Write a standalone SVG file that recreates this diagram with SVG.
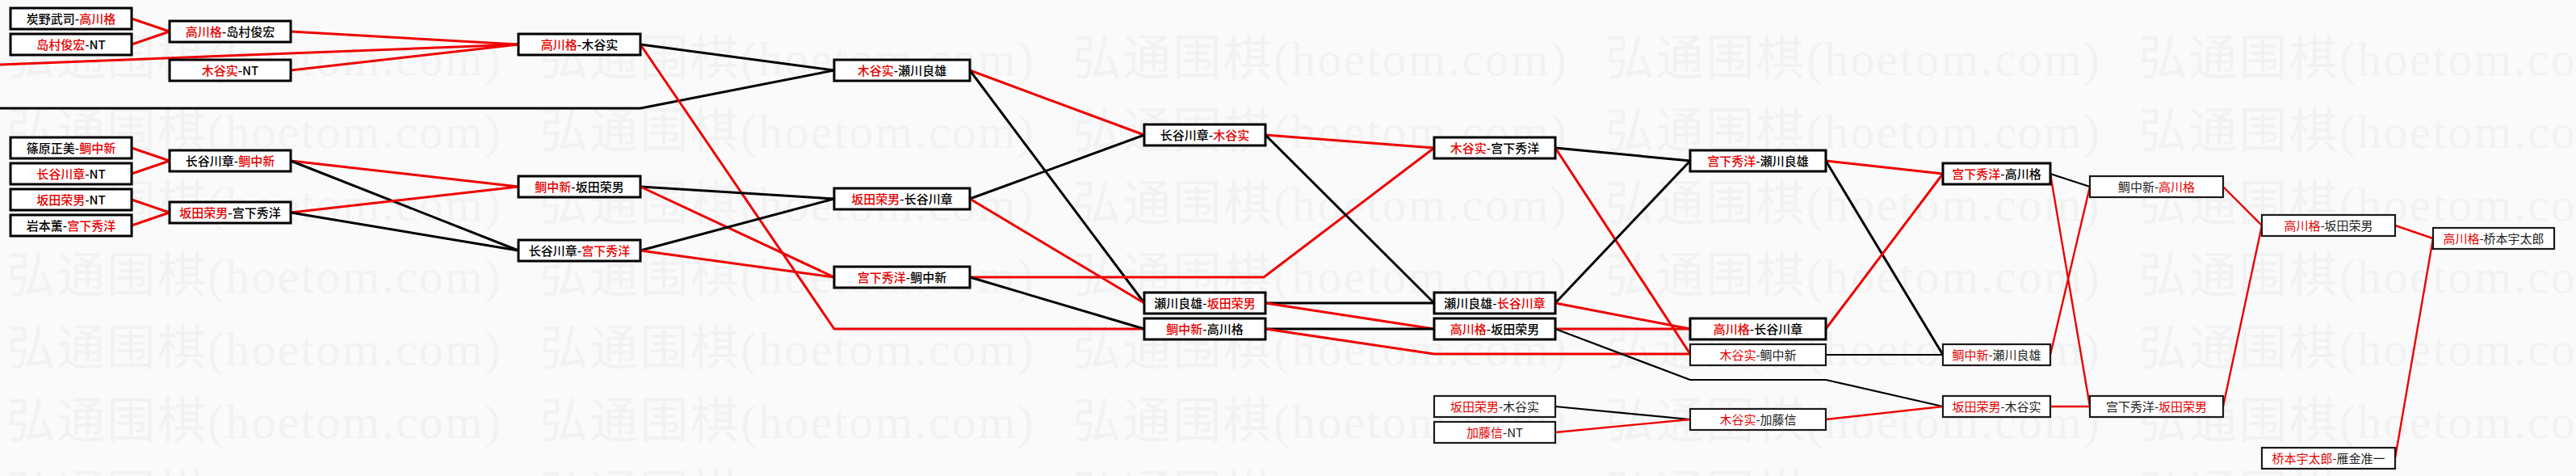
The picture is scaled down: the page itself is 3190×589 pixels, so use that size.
<svg xmlns="http://www.w3.org/2000/svg" xmlns:xlink="http://www.w3.org/1999/xlink" width="3190" height="589" viewBox="0 0 3190 589">
<style>
.bg{fill:#fafafa}
.wm{font-family:"Liberation Serif","Noto Sans CJK SC",serif;font-size:60px;fill:#f2f2f2}
.box{fill:#fff;stroke:#000;stroke-width:3}
.thin{fill:#fff;stroke:#1a1a1a;stroke-width:2.2}
.t{font-family:"Noto Sans CJK SC","Noto Sans CJK JP",sans-serif;font-size:15px;font-weight:500;fill:#000;text-anchor:middle}
.tt{font-family:"Noto Sans CJK SC","Noto Sans CJK JP",sans-serif;font-size:15px;font-weight:400;fill:#222;text-anchor:middle}
.r{fill:#e60000}
.lr{fill:none;stroke:#ee0000;stroke-width:3;stroke-linejoin:round}
.lk{fill:none;stroke:#000;stroke-width:3;stroke-linejoin:round}
.lr2{fill:none;stroke:#ee0000;stroke-width:2.4;stroke-linejoin:round}
.lk2{fill:none;stroke:#000;stroke-width:2.2;stroke-linejoin:round}
</style>
<defs>
<text id="wmt" class="wm" textLength="612" lengthAdjust="spacing">弘通围棋(hoetom.com)</text>
<g id="wmrow">
<use xlink:href="#wmt" x="8"/><use xlink:href="#wmt" x="668"/><use xlink:href="#wmt" x="1328"/><use xlink:href="#wmt" x="1988"/><use xlink:href="#wmt" x="2648"/>
</g>
</defs>
<rect class="bg" x="0" y="0" width="3190" height="589"/>
<g id="watermark">
<use xlink:href="#wmrow" y="93"/><use xlink:href="#wmrow" y="183"/><use xlink:href="#wmrow" y="273"/><use xlink:href="#wmrow" y="362"/><use xlink:href="#wmrow" y="452"/><use xlink:href="#wmrow" y="542"/><use xlink:href="#wmrow" y="632"/>
</g>
<g id="connectors">
<path class="lr" d="M163,23 L210,39"/>
<path class="lr" d="M163,55 L210,39"/>
<path class="lr" d="M163,183 L210,199"/>
<path class="lr" d="M163,215 L210,199"/>
<path class="lr" d="M163,247 L210,263"/>
<path class="lr" d="M163,279 L210,263"/>
<path class="lr" d="M360,39 L642,55"/>
<path class="lr" d="M360,87 L642,55"/>
<path class="lr" d="M0,80 L642,55"/>
<path class="lr" d="M360,199 L642,231"/>
<path class="lk" d="M360,199 L642,310"/>
<path class="lr" d="M360,263 L642,231"/>
<path class="lk" d="M360,263 L642,310"/>
<path class="lk" d="M793,55 L1033,87"/>
<path class="lk" d="M0,134 L793,134 L1033,87"/>
<path class="lr" d="M793,55 L1033,407 L1417,407"/>
<path class="lk" d="M793,231 L1033,246"/>
<path class="lr" d="M793,231 L1033,343"/>
<path class="lk" d="M793,310 L1033,246"/>
<path class="lr" d="M793,310 L1033,343"/>
<path class="lr" d="M1201,87 L1417,167"/>
<path class="lk" d="M1201,87 L1417,375"/>
<path class="lk" d="M1201,246 L1417,167"/>
<path class="lr" d="M1201,246 L1417,375"/>
<path class="lr" d="M1201,343 L1565,343 L1776,183"/>
<path class="lk" d="M1201,343 L1417,407"/>
<path class="lr" d="M1567,167 L1776,183"/>
<path class="lk" d="M1567,167 L1776,375"/>
<path class="lk" d="M1567,375 L1776,375"/>
<path class="lr" d="M1567,375 L1776,407"/>
<path class="lk" d="M1567,407 L1776,407"/>
<path class="lr" d="M1567,407 L1776,438 L2093,438"/>
<path class="lk" d="M1926,183 L2093,199"/>
<path class="lr" d="M1926,183 L2093,438"/>
<path class="lk" d="M1926,375 L2093,199"/>
<path class="lr" d="M1926,375 L2093,407"/>
<path class="lr" d="M1926,407 L2093,407"/>
<path class="lk2" d="M1926,407 L2093,470 L2261,470 L2406,503"/>
<path class="lk2" d="M1926,503 L2093,519"/>
<path class="lr2" d="M1926,535 L2093,519"/>
<path class="lr" d="M2261,199 L2406,215"/>
<path class="lk" d="M2261,199 L2406,439"/>
<path class="lr" d="M2261,407 L2406,215"/>
<path class="lk2" d="M2261,439 L2406,439"/>
<path class="lr2" d="M2261,519 L2406,503"/>
<path class="lk2" d="M2539,215 L2588,231"/>
<path class="lr2" d="M2539,215 L2588,503"/>
<path class="lr2" d="M2539,439 L2588,231"/>
<path class="lr2" d="M2539,503 L2588,503"/>
<path class="lr2" d="M2753,231 L2801,279"/>
<path class="lr2" d="M2753,503 L2801,279"/>
<path class="lr2" d="M2966,279 L3013,295"/>
<path class="lr2" d="M2966,567 L3013,295"/>
</g>
<g id="n01"><rect class="box" x="13" y="10" width="150" height="26"/><text class="t" x="88" y="28.5">炭野武司-<tspan class="r">高川格</tspan></text></g>
<g id="n02"><rect class="box" x="13" y="42" width="150" height="26"/><text class="t" x="88" y="60.5"><tspan class="r">岛村俊宏</tspan>-NT</text></g>
<g id="n03"><rect class="box" x="13" y="170" width="150" height="26"/><text class="t" x="88" y="188.5">篠原正美-<tspan class="r">鲷中新</tspan></text></g>
<g id="n04"><rect class="box" x="13" y="202" width="150" height="26"/><text class="t" x="88" y="220.5"><tspan class="r">长谷川章</tspan>-NT</text></g>
<g id="n05"><rect class="box" x="13" y="234" width="150" height="26"/><text class="t" x="88" y="252.5"><tspan class="r">坂田荣男</tspan>-NT</text></g>
<g id="n06"><rect class="box" x="13" y="266" width="150" height="26"/><text class="t" x="88" y="284.5">岩本薫-<tspan class="r">宫下秀洋</tspan></text></g>
<g id="n07"><rect class="box" x="210" y="26" width="150" height="26"/><text class="t" x="285" y="44.5"><tspan class="r">高川格</tspan>-岛村俊宏</text></g>
<g id="n08"><rect class="box" x="210" y="74" width="150" height="26"/><text class="t" x="285" y="92.5"><tspan class="r">木谷实</tspan>-NT</text></g>
<g id="n09"><rect class="box" x="210" y="186" width="150" height="26"/><text class="t" x="285" y="204.5">长谷川章-<tspan class="r">鲷中新</tspan></text></g>
<g id="n10"><rect class="box" x="210" y="250" width="150" height="26"/><text class="t" x="285" y="268.5"><tspan class="r">坂田荣男</tspan>-宫下秀洋</text></g>
<g id="n11"><rect class="box" x="642" y="42" width="151" height="26"/><text class="t" x="717.5" y="60.5"><tspan class="r">高川格</tspan>-木谷实</text></g>
<g id="n12"><rect class="box" x="642" y="218" width="151" height="26"/><text class="t" x="717.5" y="236.5"><tspan class="r">鲷中新</tspan>-坂田荣男</text></g>
<g id="n13"><rect class="box" x="642" y="297" width="151" height="26"/><text class="t" x="717.5" y="315.5">长谷川章-<tspan class="r">宫下秀洋</tspan></text></g>
<g id="n14"><rect class="box" x="1033" y="74" width="168" height="26"/><text class="t" x="1117" y="92.5"><tspan class="r">木谷实</tspan>-瀬川良雄</text></g>
<g id="n15"><rect class="box" x="1033" y="233" width="168" height="26"/><text class="t" x="1117" y="251.5"><tspan class="r">坂田荣男</tspan>-长谷川章</text></g>
<g id="n16"><rect class="box" x="1033" y="330" width="168" height="26"/><text class="t" x="1117" y="348.5"><tspan class="r">宫下秀洋</tspan>-鲷中新</text></g>
<g id="n17"><rect class="box" x="1417" y="154" width="150" height="26"/><text class="t" x="1492" y="172.5">长谷川章-<tspan class="r">木谷实</tspan></text></g>
<g id="n18"><rect class="box" x="1417" y="362" width="150" height="26"/><text class="t" x="1492" y="380.5">瀬川良雄-<tspan class="r">坂田荣男</tspan></text></g>
<g id="n19"><rect class="box" x="1417" y="394" width="150" height="26"/><text class="t" x="1492" y="412.5"><tspan class="r">鲷中新</tspan>-高川格</text></g>
<g id="n20"><rect class="box" x="1776" y="170" width="150" height="26"/><text class="t" x="1851" y="188.5"><tspan class="r">木谷实</tspan>-宫下秀洋</text></g>
<g id="n21"><rect class="box" x="1776" y="362" width="150" height="26"/><text class="t" x="1851" y="380.5">瀬川良雄-<tspan class="r">长谷川章</tspan></text></g>
<g id="n22"><rect class="box" x="1776" y="394" width="150" height="26"/><text class="t" x="1851" y="412.5"><tspan class="r">高川格</tspan>-坂田荣男</text></g>
<g id="n23"><rect class="thin" x="1776" y="490" width="150" height="26"/><text class="tt" x="1851" y="508.5"><tspan class="r">坂田荣男</tspan>-木谷实</text></g>
<g id="n24"><rect class="thin" x="1776" y="522" width="150" height="26"/><text class="tt" x="1851" y="540.5"><tspan class="r">加藤信</tspan>-NT</text></g>
<g id="n25"><rect class="box" x="2093" y="186" width="168" height="26"/><text class="t" x="2177" y="204.5"><tspan class="r">宫下秀洋</tspan>-瀬川良雄</text></g>
<g id="n26"><rect class="box" x="2093" y="394" width="168" height="26"/><text class="t" x="2177" y="412.5"><tspan class="r">高川格</tspan>-长谷川章</text></g>
<g id="n27"><rect class="thin" x="2093" y="426" width="168" height="26"/><text class="tt" x="2177" y="444.5"><tspan class="r">木谷实</tspan>-鲷中新</text></g>
<g id="n28"><rect class="thin" x="2093" y="506" width="168" height="26"/><text class="tt" x="2177" y="524.5"><tspan class="r">木谷实</tspan>-加藤信</text></g>
<g id="n29"><rect class="box" x="2406" y="202" width="133" height="26"/><text class="t" x="2472.5" y="220.5"><tspan class="r">宫下秀洋</tspan>-高川格</text></g>
<g id="n30"><rect class="thin" x="2406" y="426" width="133" height="26"/><text class="tt" x="2472.5" y="444.5"><tspan class="r">鲷中新</tspan>-瀬川良雄</text></g>
<g id="n31"><rect class="thin" x="2406" y="490" width="133" height="26"/><text class="tt" x="2472.5" y="508.5"><tspan class="r">坂田荣男</tspan>-木谷实</text></g>
<g id="n32"><rect class="thin" x="2588" y="218" width="165" height="26"/><text class="tt" x="2670.5" y="236.5">鲷中新-<tspan class="r">高川格</tspan></text></g>
<g id="n33"><rect class="thin" x="2588" y="490" width="165" height="26"/><text class="tt" x="2670.5" y="508.5">宫下秀洋-<tspan class="r">坂田荣男</tspan></text></g>
<g id="n34"><rect class="thin" x="2801" y="266" width="165" height="26"/><text class="tt" x="2883.5" y="284.5"><tspan class="r">高川格</tspan>-坂田荣男</text></g>
<g id="n35"><rect class="thin" x="2801" y="554" width="165" height="26"/><text class="tt" x="2883.5" y="572.5"><tspan class="r">桥本宇太郎</tspan>-雁金准一</text></g>
<g id="n36"><rect class="thin" x="3013" y="282" width="150" height="26"/><text class="tt" x="3088" y="300.5"><tspan class="r">高川格</tspan>-桥本宇太郎</text></g>
</svg>
